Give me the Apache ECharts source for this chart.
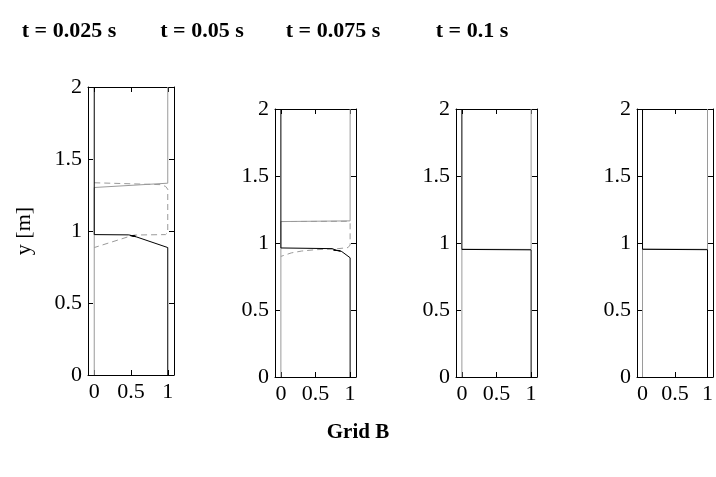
<!DOCTYPE html>
<html>
<head>
<meta charset="utf-8">
<script src="https://cdn.jsdelivr.net/npm/echarts@6/dist/echarts.min.js"></script>
<style>html,body{margin:0;padding:0;background:#fff}#c{width:716px;height:477px}</style>
</head>
<body>
<div id="c"></div>
<script>
// ---- data ----
const xTicks = [0, 0.5, 1];
const yTicks = [0, 0.5, 1, 1.5, 2];
const titles = ['t = 0.025 s', 't = 0.05 s', 't = 0.075 s', 't = 0.1 s'];
const yLabel = 'y [m]';
const caption = 'Grid B';

// t = 0.025 s
const black1 = [[0,2],[0,0.975],[0.47,0.973],[0.56,0.962],[0.49,0.968],[0.56,0.965],[0.52,0.966],[0.58,0.958],[1,0.885],[1,0]];
const gray1  = [[1,2],[1,1.332],[0,1.302],[0,0]];
const dash1  = [[0,1.335],[0.9,1.322],[0.97,1.31],[1,1.29],[1,0.99],[0.97,0.975],[0.55,0.972],[0.5,0.966],[0,0.885]];
// t = 0.05 s
const black2 = [[0,2],[0,0.963],[0.74,0.958],[0.8,0.946],[0.86,0.94],[0.76,0.947],[0.84,0.943],[0.88,0.936],[1,0.89],[1,0]];
const gray2  = [[1,2],[1,1.165],[0,1.16],[0,0]];
const dash2  = [[0,1.16],[0.95,1.162],[1,1.15],[1,0.985],[0.97,0.966],[0.8,0.956],[0.5,0.95],[0.3,0.94],[0.15,0.926],[0,0.9]];
// t = 0.075 s
const black3 = [[0,2],[0,0.952],[1,0.949],[1,0]];
const gray3  = [[1,2],[1,0.952],[0,0.954],[0,0]];
// t = 0.1 s
const black4 = [[0,2],[0,0.953],[1,0.95],[1,0]];
const gray4  = [[1,2],[1,0.953],[0,0.955],[0,0]];

const blacks = [black1, black2, black3, black4];
const grays = [gray1, gray2, gray3, gray4];
const dashes = [dash1, dash2, null, null];

// ---- layout ----
const grids = [
  {left: 88, top: 87, width: 86, height: 288},
  {left: 275, top: 109, width: 81, height: 268},
  {left: 456, top: 109, width: 81, height: 268},
  {left: 637, top: 109, width: 81, height: 268}
];
const titleX = [69, 202, 333, 472];
const FONT = 'Liberation Serif';

const xAxes = [], yAxes = [], series = [];
grids.forEach((g, i) => {
  const line = {show: true, onZero: false, lineStyle: {color: '#000', width: 1}};
  xAxes.push({type: 'value', gridIndex: i, position: 'bottom', min: -0.085, max: 1.085,
    axisLine: line, splitLine: {show: false},
    axisTick: {show: true, inside: true, length: 5, customValues: xTicks, lineStyle: {color: '#000'}},
    axisLabel: {show: true, customValues: xTicks, color: '#000', fontFamily: FONT, fontSize: 22, margin: 6}});
  xAxes.push({type: 'value', gridIndex: i, position: 'top', min: -0.085, max: 1.085,
    axisLine: line, splitLine: {show: false},
    axisTick: {show: true, inside: true, length: 5, customValues: xTicks, lineStyle: {color: '#000'}},
    axisLabel: {show: false}});
  yAxes.push({type: 'value', gridIndex: i, position: 'left', min: 0, max: 2, interval: 0.5,
    axisLine: line, splitLine: {show: false},
    axisTick: {show: true, inside: true, length: 5, lineStyle: {color: '#000'}},
    axisLabel: {show: true, color: '#000', fontFamily: FONT, fontSize: 22, margin: 6}});
  yAxes.push({type: 'value', gridIndex: i, position: 'right', min: 0, max: 2, interval: 0.5,
    axisLine: line, splitLine: {show: false},
    axisTick: {show: true, inside: true, length: 5, lineStyle: {color: '#000'}},
    axisLabel: {show: false}});
  const common = {type: 'line', xAxisIndex: 2 * i, yAxisIndex: 2 * i, showSymbol: false, symbol: 'none', silent: true, animation: false};
  if (dashes[i]) {
    series.push(Object.assign({}, common, {data: dashes[i], z: 2, lineStyle: {color: '#9a9a9a', width: 1, type: [6, 4]}}));
  }
  series.push(Object.assign({}, common, {data: grays[i], z: 3, lineStyle: {color: '#9a9a9a', width: 1}}));
  series.push(Object.assign({}, common, {data: blacks[i], z: 4, lineStyle: {color: '#000', width: 1}}));
});

const graphics = titles.map((t, i) => ({
  type: 'text', x: titleX[i], y: 31,
  style: {text: t, fontFamily: FONT, fontWeight: 'bold', fontSize: 22, fill: '#000', align: 'center', verticalAlign: 'middle'}
}));
graphics.push({type: 'text', x: 24, y: 231, rotation: Math.PI / 2,
  style: {text: yLabel, fontFamily: FONT, fontSize: 22, fill: '#000', align: 'center', verticalAlign: 'middle'}});
graphics.push({type: 'text', x: 358, y: 433,
  style: {text: caption, fontFamily: FONT, fontWeight: 'bold', fontSize: 21, fill: '#000', align: 'center', verticalAlign: 'middle'}});

const chart = echarts.init(document.getElementById('c'), null, {renderer: 'canvas'});
chart.setOption({
  animation: false,
  backgroundColor: '#fff',
  grid: grids,
  xAxis: xAxes,
  yAxis: yAxes,
  series: series,
  graphic: graphics
});
</script>
</body>
</html>
